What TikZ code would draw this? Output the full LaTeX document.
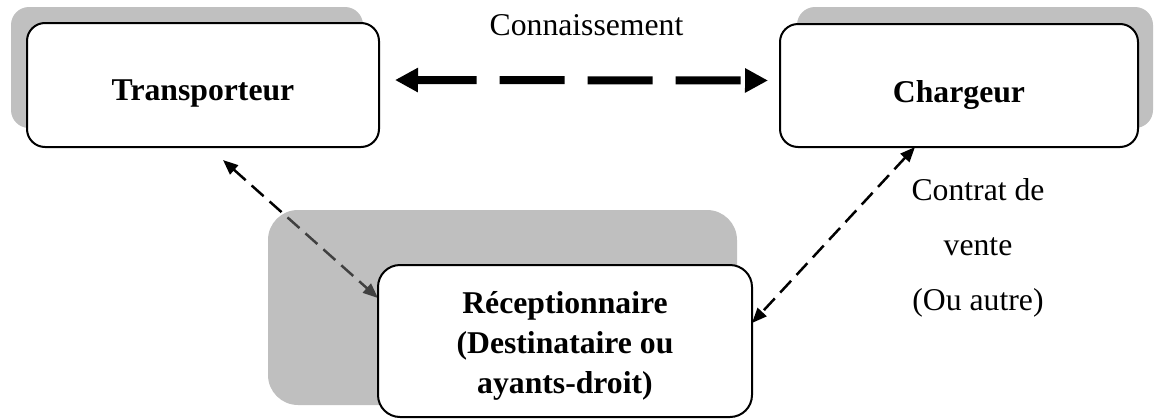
\documentclass[tikz,border=0pt]{standalone}
\usepackage{fontspec}
\setmainfont{Liberation Serif}
\usetikzlibrary{arrows.meta}
\definecolor{shade}{RGB}{192,192,192}
\definecolor{veilgray}{RGB}{128,128,128}
\pgfdeclarelayer{back}
\pgfdeclarelayer{veil}
\pgfdeclarelayer{front}
\pgfsetlayers{back,main,veil,front}
\begin{document}
\begin{tikzpicture}[x=1pt,y=-1pt,
  box/.style={draw=black, line width=2pt, fill=white, rounded corners=18pt, inner sep=0pt, outer sep=0pt},
  lbl/.style={font=\fontsize{31.7}{40}\selectfont\bfseries},
  plain/.style={font=\fontsize{31.7}{55}\selectfont},
  shadowfill/.style={fill=shade},
  bigarrow/.style={line width=8pt, {Triangle[length=23pt,width=23pt]}-{Triangle[length=23pt,width=23pt]}, dash pattern=on 65pt off 23pt, dash phase=5pt},
  thinarrow/.style={line width=2.5pt, {Triangle[length=15pt,width=12pt]}-{Triangle[length=15pt,width=12pt]}, dash pattern=on 16pt off 8pt}
]
\useasboundingbox (0,0) rectangle (1154,418);
% shadows of top boxes
\begin{pgfonlayer}{back}
\fill[shadowfill, rounded corners=18pt] (11,7) rectangle (363,128);
\fill[shadowfill, rounded corners=18pt] (797,7) rectangle (1153,128);
\end{pgfonlayer}
% top boxes
\node[box, minimum width=352pt, minimum height=124pt, lbl, text height=30pt, text depth=0pt] (trans) at (203,85) {Transporteur};
\node[box, minimum width=358pt, minimum height=123pt, lbl, text height=33pt, text depth=0pt] (charg) at (959,85.5) {Chargeur};
% bottom box
\begin{pgfonlayer}{front}
\node[box, rounded corners=22pt, minimum width=374pt, minimum height=152pt] (recv) at (565,341) {};
\node[lbl, align=center, anchor=base] (recvtxt) at (565,393) {Réceptionnaire\\(Destinataire ou\\ayants-droit)};
\end{pgfonlayer}
\begin{pgfonlayer}{veil}
\fill[fill=veilgray, fill opacity=0.5, rounded corners=30pt] (268,210) rectangle (737,405);
\end{pgfonlayer}
% labels
\node[plain, anchor=base] (conn) at (586.5,35) {Connaissement};
\node[plain, align=center, anchor=base] (contrat) at (978,310) {Contrat de\\vente\\(Ou autre)};
% connectors
\draw[bigarrow, shorten <=16pt, shorten >=12pt] ([yshift=5pt]trans.east) -- ([yshift=5pt]charg.west);
\draw[thinarrow] ([xshift=20pt,yshift=-13pt]trans.south) -- ([yshift=43pt]recv.west);
\draw[thinarrow] ([xshift=-44pt]charg.south) -- ([yshift=18pt]recv.east);
\end{tikzpicture}
\end{document}
